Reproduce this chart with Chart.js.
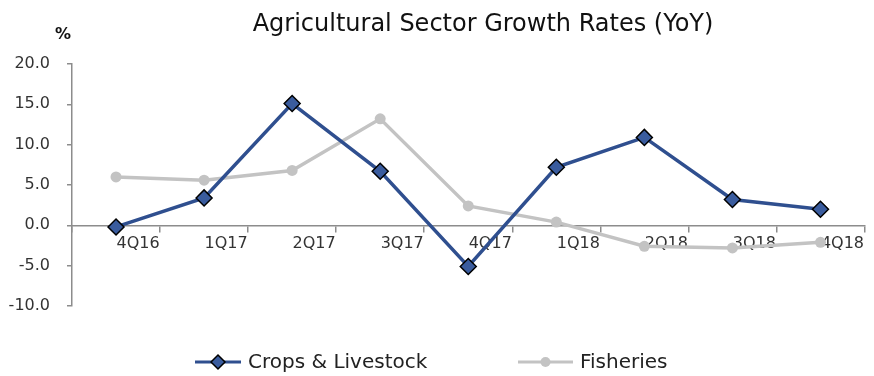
<!DOCTYPE html>
<html lang="en">
<head>
  <meta charset="UTF-8">
  <title>Agricultural Sector Growth Rates</title>
  <script src="https://cdn.jsdelivr.net/npm/chart.js"></script>
  <style>
    body { margin: 0; background: #fff; }
    .wrap { width: 874px; height: 376px; position: relative; }
  </style>
</head>
<body>
  <div class="wrap"><canvas id="agriChart"></canvas></div>

  <script>
    // data
    const quarters = ['4Q16', '1Q17', '2Q17', '3Q17', '4Q17', '1Q18', '2Q18', '3Q18', '4Q18'];
    const cropsLivestock = [-0.2, 3.4, 15.1, 6.7, -5.1, 7.2, 10.9, 3.2, 2.0];
    const fisheries = [6.0, 5.6, 6.8, 13.2, 2.4, 0.4, -2.6, -2.8, -2.1];
    const yTicks = [-10, -5, 0, 5, 10, 15, 20];

    const FONT = '"DejaVu Sans", sans-serif';
    const axisColor = '#8c8c8c';

    // title, "%" unit and a legend with line + marker samples
    const decorations = {
      id: 'decorations',
      afterDraw(chart) {
        const ctx = chart.ctx;
        ctx.save();
        ctx.fillStyle = '#111';
        ctx.textBaseline = 'middle';
        ctx.textAlign = 'center';
        ctx.font = '24px ' + FONT;
        ctx.fillText('Agricultural Sector Growth Rates (YoY)', 483, 25);
        ctx.font = 'bold 16px ' + FONT;
        ctx.fillText('%', 63, 35);

        const items = [
          { ds: chart.data.datasets[0], x: 195, w: 46, r: 7 },
          { ds: chart.data.datasets[1], x: 518, w: 55, r: 5 }
        ];
        const y = 362;
        items.forEach(it => {
          ctx.strokeStyle = it.ds.borderColor;
          ctx.lineWidth = 3;
          ctx.beginPath();
          ctx.moveTo(it.x, y);
          ctx.lineTo(it.x + it.w, y);
          ctx.stroke();
          ctx.fillStyle = it.ds.pointBackgroundColor;
          ctx.strokeStyle = it.ds.pointBorderColor;
          ctx.lineWidth = it.ds.pointBorderWidth;
          Chart.helpers.drawPoint(ctx, {
            pointStyle: it.ds.pointStyle,
            radius: it.r,
            borderWidth: it.ds.pointBorderWidth
          }, it.x + it.w / 2, y);
          ctx.fillStyle = '#222';
          ctx.textAlign = 'left';
          ctx.font = '20px ' + FONT;
          ctx.fillText(it.ds.label, it.x + it.w + 7, y + 1);
        });
        ctx.restore();
      }
    };

    const ctx = document.getElementById('agriChart').getContext('2d');
    new Chart(ctx, {
      type: 'line',
      data: {
        labels: quarters,
        datasets: [
          {
            label: 'Crops & Livestock',
            data: cropsLivestock,
            borderColor: '#2f4f8f',
            borderWidth: 3.5,
            pointStyle: 'rectRot',
            pointRadius: 8,
            pointBackgroundColor: '#3a5c9e',
            pointBorderColor: '#000',
            pointBorderWidth: 1.5,
            order: 1
          },
          {
            label: 'Fisheries',
            data: fisheries,
            borderColor: '#c3c3c3',
            borderWidth: 3.5,
            pointStyle: 'circle',
            pointRadius: 5.5,
            pointBackgroundColor: '#c3c3c3',
            pointBorderColor: '#c3c3c3',
            pointBorderWidth: 0,
            order: 2
          }
        ]
      },
      options: {
        responsive: true,
        maintainAspectRatio: false,
        animation: false,
        layout: { padding: { top: 64, right: 5, bottom: 70, left: 0 } },
        plugins: {
          legend: { display: false },
          title: { display: false },
          tooltip: { enabled: false }
        },
        scales: {
          x: {
            position: { y: 0 },
            offset: true,
            grid: {
              offset: true,
              drawOnChartArea: false,
              drawTicks: true,
              tickLength: 6,
              color: axisColor,
              lineWidth: 1.5
            },
            border: { color: axisColor, width: 1.5 },
            ticks: {
              color: '#333',
              font: { family: FONT, size: 16 },
              padding: 3,
              labelOffset: 22,
              maxRotation: 0,
              autoSkip: false
            }
          },
          y: {
            min: yTicks[0],
            max: yTicks[yTicks.length - 1],
            afterFit(scale) { scale.width = 72; },
            afterBuildTicks(scale) { scale.ticks = yTicks.map(v => ({ value: v })); },
            grid: {
              drawOnChartArea: false,
              drawTicks: true,
              tickLength: 5,
              color: axisColor,
              lineWidth: 1.5
            },
            border: { color: axisColor, width: 1.5 },
            ticks: {
              color: '#333',
              font: { family: FONT, size: 16 },
              padding: 17,
              callback: v => v.toFixed(1)
            }
          }
        }
      },
      plugins: [decorations]
    });
  </script>
</body>
</html>
